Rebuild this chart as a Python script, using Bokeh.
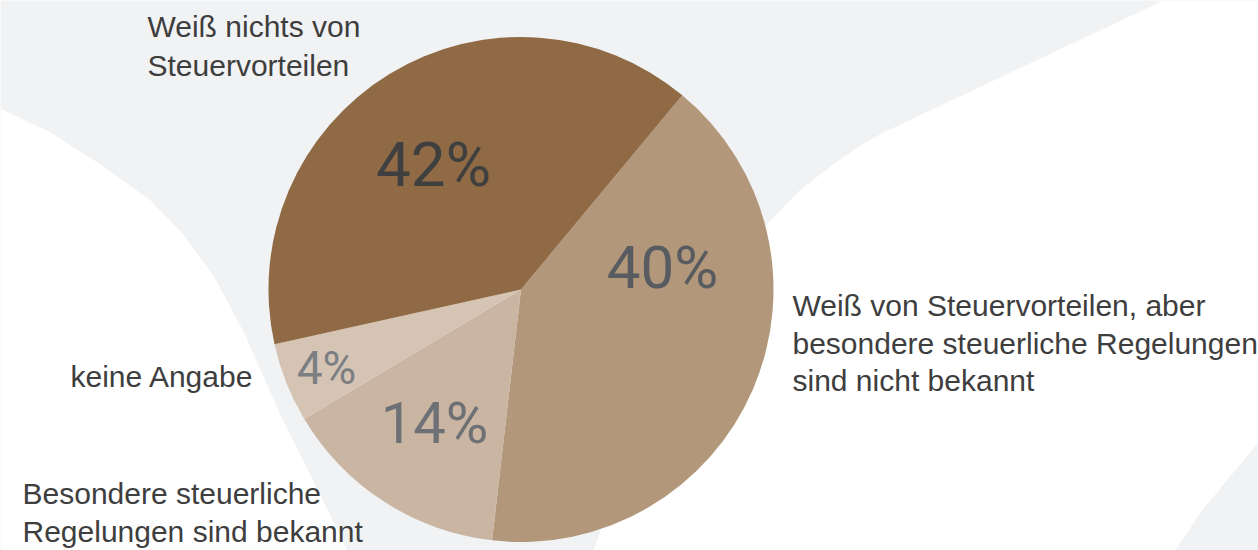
import math
from bokeh.plotting import figure
from bokeh.models import ColumnDataSource, Range1d
from bokeh.core.properties import value
from bokeh.embed import file_html
from bokeh.resources import INLINE

W, H = 1258, 550

# --- data (clockwise from the upper-right boundary) ---
categories = [
    "Weiß von Steuervorteilen, aber besondere steuerliche Regelungen sind nicht bekannt",
    "Besondere steuerliche Regelungen sind bekannt",
    "keine Angabe",
    "Weiß nichts von Steuervorteilen",
]
shares = [40.8, 14.6, 5.1, 39.5]          # slice sizes as drawn
pct_labels = ["40%", "14%", "4%", "42%"]  # printed labels
colors = ["#b2977b", "#c9b5a1", "#d5c4b3", "#8f6a44"]
pct_colors = ["#585c60", "#6d7075", "#7b7e83", "#3f3f3f"]

start_deg = 50.3
cx, cy, R = 520.5, H - 289, 252.5

p = figure(width=W, height=H, output_backend="svg", toolbar_location=None,
           x_range=Range1d(0, W), y_range=Range1d(0, H), min_border=0,
           background_fill_color="#f1f2f4", border_fill_color="#ffffff")
p.axis.visible = False
p.grid.visible = False
p.outline_line_color = None

def sy(v):
    return H - v

# decorative background swooshes (white on light grey)
left_x = [0, 50, 100, 150, 182, 213, 245, 277, 310, 347, 0]
left_y = [108, 132, 164, 200, 233, 275, 335, 408, 475, 550, 550]
p.patch(left_x, [sy(v) for v in left_y], fill_color="#ffffff", line_color=None)
right_x = [1163, 1258, 1258, 1228, 1200, 1175, 593, 600, 620, 660, 710, 767, 800, 838, 860, 881, 1163]
right_y = [0, 0, 442, 478, 512, 550, 550, 530, 470, 380, 295, 223, 189, 160, 145, 133, 0]
p.patch(right_x, [sy(v) for v in right_y], fill_color="#ffffff", line_color=None)

# pie wedges
total = sum(shares)
starts, ends = [], []
a = math.radians(start_deg)
for s in shares:
    span = 2 * math.pi * s / total
    starts.append(a)
    ends.append(a - span)
    a -= span
src = ColumnDataSource(dict(start=starts, end=ends, color=colors))
p.wedge(x=cx, y=cy, radius=R, start_angle="start", end_angle="end",
        direction="clock", fill_color="color", line_color=None, source=src)

def base(y, fs):
    # compensate for the renderer's baseline offset
    return sy(y - 0.39 * fs)

# percentage labels
pct_pos = [(662, 290), (434, 445), (326, 385), (433, 188)]
pct_size = [60, 58, 46, 62]
for (x, y), t, c, fs in zip(pct_pos, pct_labels, pct_colors, pct_size):
    p.text(x=[x], y=[base(y, fs)], text=[t], text_color=c, text_align="center",
           text_baseline="alphabetic", text_font=value("Roboto"),
           text_font_size=f"{fs}px")

# category labels
font = value("Liberation Sans")
lab_color = "#3e3e3e"
lines = [
    (147, 38, "Weiß nichts von"),
    (147, 77, "Steuervorteilen"),
    (70, 388, "keine Angabe"),
    (22, 505, "Besondere steuerliche"),
    (22, 543, "Regelungen sind bekannt"),
    (792, 317, "Weiß von Steuervorteilen, aber"),
    (792, 355, "besondere steuerliche Regelungen"),
    (792, 392, "sind nicht bekannt"),
]
for x, y, t in lines:
    p.text(x=[x], y=[base(y, 30)], text=[t], text_color=lab_color, text_align="left",
           text_baseline="alphabetic", text_font=font, text_font_size="30px")

open("out.html", "w").write(file_html(p, INLINE))
